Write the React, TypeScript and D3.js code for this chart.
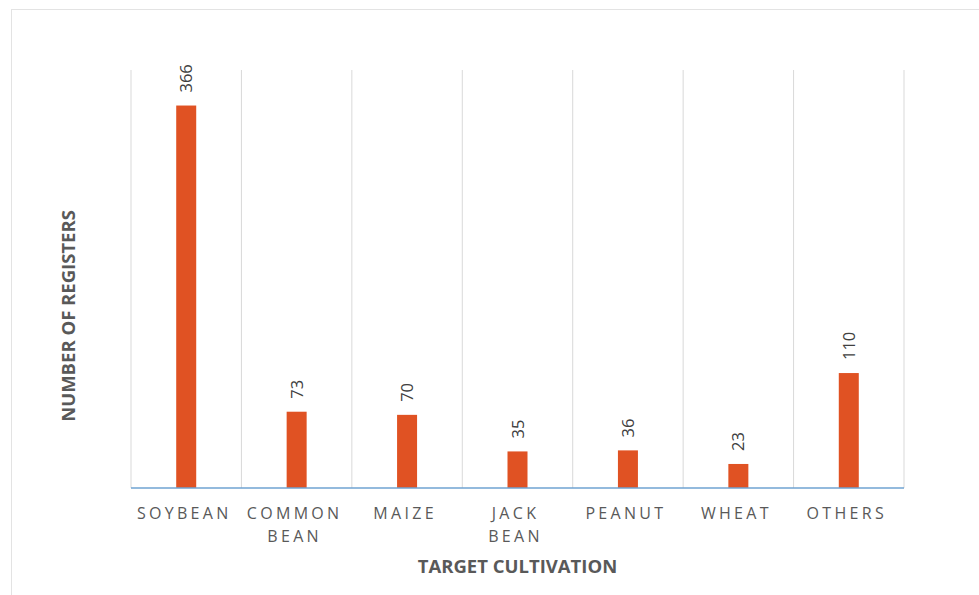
import React from 'react'
import * as d3 from 'd3'

const categories = [['SOYBEAN'], ['COMMON', 'BEAN'], ['MAIZE'], ['JACK', 'BEAN'], ['PEANUT'], ['WHEAT'], ['OTHERS']]
const values = [366, 73, 70, 35, 36, 23, 110]
const yMax = 400

const W = 979
const H = 595
const margin = {top: 70, right: 75, bottom: 107, left: 131}

export default function App() {
  const width = 904 - margin.left
  const height = 488 - margin.top
  const keys = categories.map(c => c.join(' '))

  const x = d3.scaleBand().domain(keys).range([0, width]).padding(0)
  const y = d3.scaleLinear().domain([0, yMax]).range([height, 0])
  const barW = 20
  const font = '"Open Sans", sans-serif'

  return (
    <svg width={W} height={H} style={{position: 'absolute', left: 0, top: 0, background: '#fff'}}>
      {/* page frame edges */}
      <line x1={11} y1={9.5} x2={W} y2={9.5} stroke="#e3e3e3" />
      <line x1={11.5} y1={9} x2={11.5} y2={H} stroke="#e3e3e3" />
      <g transform={`translate(${margin.left},${margin.top})`}>
        {/* vertical separators between categories */}
        {keys.map(k => (
          <line key={k} x1={x(k)} x2={x(k)} y1={0} y2={height} stroke="#d9d9d9" />
        ))}
        <line x1={width} x2={width} y1={0} y2={height} stroke="#d9d9d9" />

        {values.map((v, i) => {
          const cx = x(keys[i])! + x.bandwidth() / 2
          return (
            <g key={keys[i]}>
              <rect x={cx - barW / 2} y={y(v)} width={barW} height={height - y(v)} fill="#e05223" />
              <text
                transform={`translate(${cx + 6},${y(v) - 13}) rotate(-90)`}
                fontFamily={font}
                fontSize={16.5}
                fill="#404040"
              >
                {v}
              </text>
            </g>
          )
        })}

        <line x1={0} x2={width} y1={height} y2={height} stroke="#6fa3d2" strokeWidth={1.5} />

        {categories.map((lines, i) => {
          const cx = x(keys[i])! + x.bandwidth() / 2
          return (
            <text key={keys[i]} fontFamily={font} fontSize={16} fill="#595959" letterSpacing={3.3} textAnchor="middle">
              {lines.map((l, j) => (
                <tspan key={l} x={cx - 2} y={height + 31 + j * 23}>{l}</tspan>
              ))}
            </text>
          )
        })}

        <text x={width / 2} y={height + 85} textAnchor="middle" fontFamily={font} fontSize={18.5}
          fontWeight="bold" fill="#595959">TARGET CULTIVATION</text>
      </g>
      <text transform={`translate(75,316) rotate(-90)`} textAnchor="middle" fontFamily={font} fontSize={18.5}
        fontWeight="bold" fill="#595959">NUMBER OF REGISTERS</text>
    </svg>
  )
}
